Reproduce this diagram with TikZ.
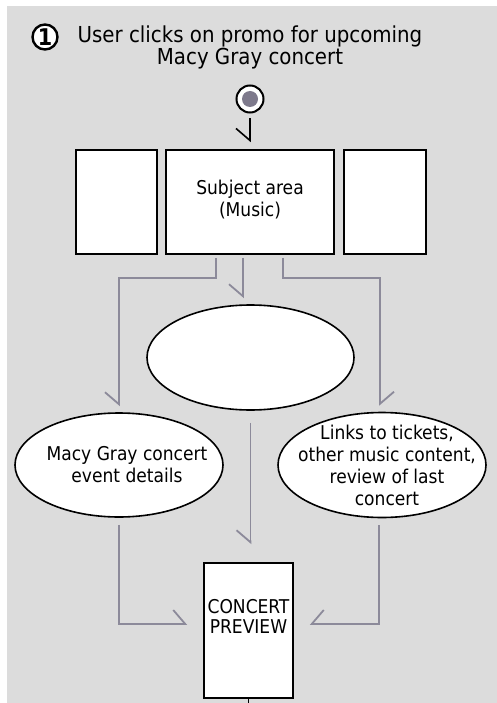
\documentclass[tikz,border=0pt]{standalone}
\usepackage{fontspec}
\setmainfont{DejaVu Sans Condensed}
\usetikzlibrary{arrows.meta,shapes.geometric}
\definecolor{bg}{HTML}{DCDCDC}
\definecolor{conncol}{HTML}{8C8A9A}
\definecolor{dotcol}{HTML}{7E7A8C}
\newcommand{\bodyfont}{\fontsize{19}{22}\selectfont}
\newcommand{\headfont}{\fontsize{22}{22}\selectfont}
\begin{document}
\begin{tikzpicture}[x=1pt,y=-1pt,
  box/.style={draw=black, line width=1.6pt, fill=white, inner sep=0pt},
  oval/.style={ellipse, draw=black, line width=1.6pt, fill=white, inner sep=0pt},
  hr/.style={-{Straight Barb[harpoon,swap,length=12pt,width=28pt]}},
  hl/.style={-{Straight Barb[harpoon,length=12pt,width=28pt]}},
  conn/.style={draw=conncol, line width=1.8pt},
  txt/.style={font=\bodyfont, align=center, inner sep=0pt}]
\useasboundingbox (0,0) rectangle (497,703);
\fill[bg] (7,6) rectangle (497,703);

% heading
\node[circle, draw=black, line width=2.4pt, fill=white, minimum size=25pt, inner sep=0pt,
      font=\fontsize{23}{23}\selectfont\bfseries] (num) at (45,37) {1};
\node[font=\headfont, align=center, inner sep=0pt] (head) at (250,47)
  {User clicks on promo for upcoming\\Macy Gray concert};

% click point
\node[circle, draw=black, line width=2pt, fill=white, minimum size=27pt, inner sep=0pt] (click) at (250,99) {};
\fill[dotcol] (click.center) circle (8pt);

% top row of boxes
\node[box, minimum width=81pt, minimum height=104pt] (lbox) at (116.5,202) {};
\node[box, minimum width=168pt, minimum height=104pt] (subj) at (250,202) {};
\node[txt] at ([yshift=2.5pt]subj.center) {Subject area\\(Music)};
\node[box, minimum width=82pt, minimum height=104pt] (rbox) at (385,202) {};

% ellipses
\node[oval, minimum width=207pt, minimum height=105pt] (mid) at (250.5,357.5) {};
\node[oval, minimum width=208pt, minimum height=104pt,
      label={[txt, xshift=8pt]center:Macy Gray concert\\event details}] (lov) at (119,465) {};
\node[oval, minimum width=208pt, minimum height=105pt,
      label={[txt, xshift=5pt]center:Links to tickets,\\other music content,\\review of last\\concert}] (rov) at (382,465) {};

% concert preview
\node[box, minimum width=89pt, minimum height=135pt,
      label={[font=\fontsize{19}{20}\selectfont, align=center, inner sep=0pt, yshift=14.5pt]center:CONCERT\\PREVIEW}] (prev) at (248.5,630.5) {};
\draw[line width=1.5pt] (prev.south) -- ++(0,8);

% connectors
\draw[line width=1.6pt, hr, shorten <=5pt, shorten >=7pt] (click.south) -- (subj.north);

\coordinate (s1) at ([xshift=-34pt,yshift=-3pt]subj.south);
\coordinate (s2) at ([xshift=-7pt,yshift=-3pt]subj.south);
\coordinate (s3) at ([xshift=33pt,yshift=-3pt]subj.south);
\draw[conn, hr] (s1) -- ++(0,20) -| ([yshift=6pt]lov.north);
\draw[conn, hr] (s2) -- ([yshift=6pt]s2 |- mid.north);
\draw[conn, hl] (s3) -- ++(0,20) -| ([xshift=-2pt,yshift=6pt]rov.north);

\draw[conn, hl] ([yshift=-7pt]lov.south) |- ([xshift=-16pt,yshift=6.5pt]prev.west);
\draw[conn, hr] ([xshift=-3pt,yshift=-7pt]rov.south) |- ([xshift=16pt,yshift=6.5pt]prev.east);
\coordinate (m1) at ([yshift=-12pt]mid.south);
\draw[conn, hr] (m1) -- ([yshift=18pt]m1 |- prev.north);
\end{tikzpicture}
\end{document}
